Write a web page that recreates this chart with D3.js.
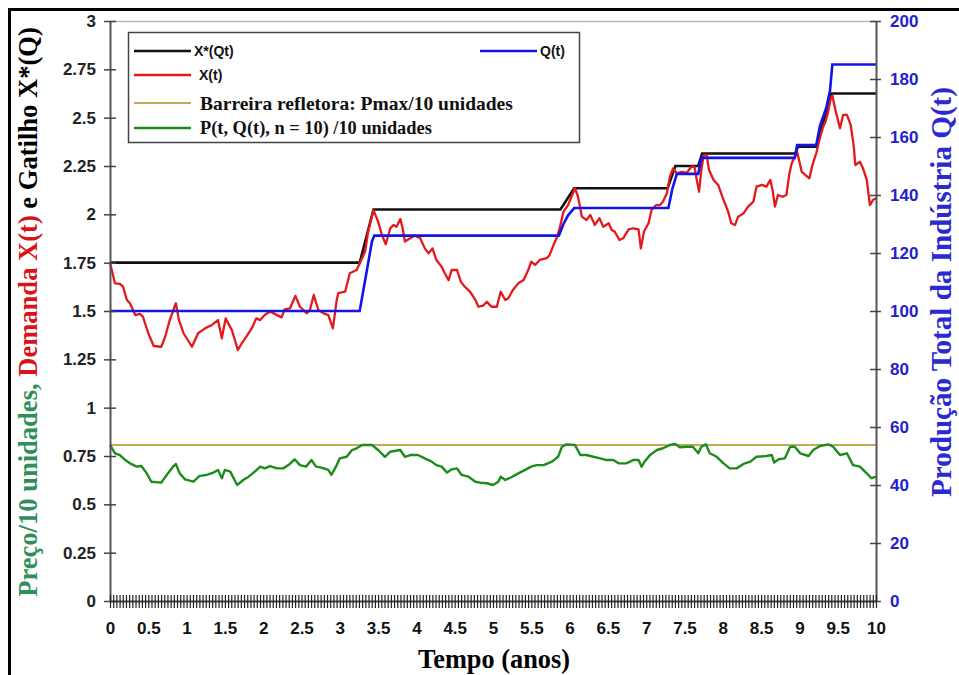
<!DOCTYPE html>
<html><head><meta charset="utf-8">
<script src="https://cdn.jsdelivr.net/npm/d3@7"></script>
<style>body{margin:0;background:#fff;overflow:hidden}</style>
</head><body>
<svg id="c" width="959" height="675"></svg>
<script>
// ---------------- data ----------------
const leftTicks = [0,0.25,0.5,0.75,1,1.25,1.5,1.75,2,2.25,2.5,2.75,3];
const leftTickLabels = ["0","0.25","0.5","0.75","1","1.25","1.5","1.75","2","2.25","2.5","2.75","3"];
const rightTicks = [0,20,40,60,80,100,120,140,160,180,200];
const xLabelTicks = [0,0.5,1,1.5,2,2.5,3,3.5,4,4.5,5,5.5,6,6.5,7,7.5,8,8.5,9,9.5,10];
const xLabelText = ["0","0.5","1","1.5","2","2.5","3","3.5","4","4.5","5","5.5","6","6.5","7","7.5","8","8.5","9","9.5","10"];
const barrierLevel = 0.807;

// X*(Qt) trigger, [t, value]
const triggerX = [[0,1.75],[3.26,1.75],[3.44,2.025],[5.88,2.025],[6.06,2.135],[7.28,2.135],[7.38,2.25],[7.68,2.25],[7.73,2.315],[8.95,2.315],[8.98,2.35],[9.22,2.35],[9.42,2.625],[10,2.625]];

// X(t) demand, [t, value]
const demandX = [[0,1.75],[0.065,1.643],[0.13,1.64],[0.17,1.626],[0.22,1.557],[0.26,1.54],[0.33,1.479],[0.39,1.485],[0.43,1.47],[0.5,1.385],[0.57,1.319],[0.67,1.315],[0.72,1.367],[0.78,1.453],[0.86,1.54],[0.9,1.453],[0.96,1.385],[1.07,1.315],[1.15,1.385],[1.24,1.41],[1.33,1.428],[1.41,1.453],[1.46,1.359],[1.51,1.462],[1.59,1.402],[1.67,1.298],[1.72,1.333],[1.78,1.367],[1.85,1.41],[1.91,1.462],[1.96,1.453],[2.02,1.479],[2.09,1.497],[2.15,1.485],[2.24,1.467],[2.28,1.509],[2.35,1.514],[2.42,1.578],[2.48,1.522],[2.57,1.488],[2.61,1.505],[2.66,1.583],[2.72,1.505],[2.79,1.488],[2.85,1.479],[2.91,1.41],[2.96,1.557],[2.98,1.592],[3.07,1.6],
[3.13,1.695],[3.22,1.712],[3.29,1.773],[3.33,1.807],[3.37,1.91],[3.44,2.022],[3.5,1.962],[3.55,1.893],[3.6,1.845],[3.66,1.928],[3.7,1.945],[3.74,1.936],[3.79,1.976],[3.82,1.928],[3.85,1.859],[3.92,1.876],[3.98,1.89],[4.05,1.876],[4.11,1.824],[4.16,1.798],[4.21,1.824],[4.26,1.764],[4.33,1.729],[4.37,1.695],[4.42,1.66],[4.46,1.712],[4.53,1.712],[4.58,1.652],[4.63,1.626],[4.7,1.6],[4.77,1.557],[4.81,1.522],[4.87,1.528],[4.92,1.548],[4.98,1.522],[5.05,1.522],[5.1,1.6],[5.16,1.557],[5.2,1.566],[5.26,1.609],[5.33,1.643],[5.4,1.66],[5.46,1.712],[5.5,1.755],[5.55,1.738],[5.61,1.764],[5.7,1.773],[5.74,1.79],[5.79,1.841],[5.83,1.876],[5.87,1.928],[5.92,2.014],[5.98,2.048],
[6.07,2.135],[6.11,2.091],[6.16,1.988],[6.22,1.971],[6.27,1.997],[6.33,1.945],[6.39,1.98],[6.44,1.936],[6.51,1.954],[6.55,1.919],[6.59,1.91],[6.65,1.867],[6.7,1.876],[6.77,1.922],[6.83,1.928],[6.9,1.922],[6.93,1.824],[6.97,1.91],[7.03,1.954],[7.07,2.022],[7.13,2.048],[7.18,2.048],[7.22,2.066],[7.27,2.109],[7.31,2.195],[7.35,2.238],[7.4,2.212],[7.46,2.22],[7.53,2.215],[7.59,2.246],[7.63,2.246],[7.66,2.178],[7.69,2.117],[7.72,2.229],[7.75,2.307],[7.79,2.307],[7.82,2.229],[7.88,2.178],[7.94,2.152],[8.01,2.074],[8.07,2.014],[8.11,1.954],[8.16,1.945],[8.2,1.988],[8.27,2.005],[8.33,2.04],[8.4,2.066],[8.44,2.143],[8.51,2.152],
[8.57,2.143],[8.62,2.178],[8.65,2.126],[8.68,2.04],[8.72,2.1],[8.78,2.091],[8.83,2.1],[8.87,2.212],[8.9,2.264],[8.94,2.298],[8.97,2.324],[9.0,2.272],[9.03,2.22],[9.08,2.203],[9.13,2.186],[9.17,2.255],[9.22,2.316],[9.26,2.384],[9.31,2.453],[9.34,2.479],[9.37,2.522],[9.41,2.6],[9.43,2.615],[9.47,2.54],[9.53,2.445],[9.57,2.514],[9.62,2.514],[9.67,2.462],[9.71,2.35],[9.73,2.255],[9.79,2.272],[9.83,2.238],[9.88,2.178],[9.92,2.048],[9.96,2.074],[10,2.083]];

// P(t, Q(t), n=10)/10, [t, value]
const priceP = [[0,0.807],[0.065,0.764],[0.13,0.755],[0.2,0.729],[0.26,0.712],[0.35,0.695],[0.41,0.698],[0.48,0.66],[0.54,0.617],[0.67,0.612],[0.74,0.652],[0.83,0.698],[0.86,0.709],[0.91,0.66],[0.98,0.629],[1.09,0.617],[1.17,0.647],[1.26,0.652],[1.35,0.664],[1.41,0.678],[1.46,0.635],[1.5,0.678],[1.57,0.669],[1.66,0.6],[1.74,0.626],[1.81,0.643],[1.89,0.669],[1.96,0.695],[2.02,0.686],[2.09,0.698],[2.18,0.686],[2.26,0.686],[2.33,0.703],[2.41,0.733],[2.48,0.703],[2.56,0.695],[2.63,0.729],[2.69,0.695],[2.76,0.69],[2.85,0.678],[2.89,0.652],[2.96,0.703],[3.0,0.738],[3.09,0.746],[3.16,0.781],[3.22,0.79],[3.29,0.807],[3.42,0.807],[3.5,0.781],[3.59,0.746],[3.66,0.772],[3.79,0.781],[3.85,0.746],[3.92,0.755],[4.02,0.755],[4.11,0.738],[4.2,0.721],[4.26,0.703],[4.33,0.695],[4.4,0.664],[4.46,0.681],[4.53,0.686],[4.59,0.652],[4.68,0.643],[4.77,0.617],[4.83,0.612],[4.92,0.609],[5.0,0.6],[5.07,0.617],[5.1,0.643],[5.16,0.626],[5.24,0.64],[5.33,0.66],[5.42,0.678],[5.5,0.695],[5.57,0.703],[5.66,0.703],[5.77,0.721],[5.85,0.746],[5.9,0.798],[5.96,0.81],[6.07,0.807],[6.14,0.755],[6.22,0.755],[6.31,0.746],[6.4,0.738],[6.48,0.729],[6.57,0.729],[6.64,0.712],[6.74,0.712],[6.83,0.729],[6.9,0.729],[6.94,0.695],[6.98,0.721],[7.05,0.755],[7.14,0.781],[7.22,0.79],[7.31,0.807],[7.38,0.812],[7.44,0.795],[7.53,0.798],[7.61,0.798],[7.68,0.764],[7.72,0.798],[7.78,0.81],[7.83,0.764],[7.92,0.746],[8.01,0.712],[8.09,0.686],[8.18,0.686],[8.27,0.709],[8.36,0.721],[8.44,0.746],[8.57,0.75],[8.64,0.755],[8.67,0.716],[8.73,0.733],[8.81,0.738],[8.88,0.798],[8.94,0.798],[9.01,0.764],[9.12,0.75],[9.18,0.781],[9.27,0.802],[9.38,0.81],[9.44,0.798],[9.53,0.755],[9.62,0.764],[9.7,0.703],[9.79,0.695],[9.88,0.66],[9.94,0.635],[10,0.643]];

// Q(t) industry output, [t, value] (right axis)
const outputQ = [[0,100],[3.26,100],[3.3,106],[3.36,115],[3.42,124],[3.45,126],[5.86,126],[5.92,130],[5.98,133],[6.06,135.5],[7.29,135.5],[7.34,142],[7.4,147.3],[7.68,147.3],[7.72,152.8],[8.94,152.8],[8.97,157.2],[9.22,157.2],[9.27,164],[9.35,170],[9.4,176],[9.43,185],[10,185]];

// legend
const legendItems = [
  {label:"X*(Qt)", color:"#111", w:2.6, font:"sans", col:0, row:0},
  {label:"X(t)", color:"#e3191c", w:2.4, font:"sans", col:0, row:1},
  {label:"Barreira refletora: Pmax/10 unidades", color:"#a89020", w:1.3, font:"serif", col:0, row:2},
  {label:"P(t, Q(t), n = 10) /10 unidades", color:"#1d8c1d", w:2.4, font:"serif", col:0, row:3},
  {label:"Q(t)", color:"#1414e6", w:2.6, font:"sans", col:1, row:0}
];

// ---------------- drawing ----------------
const SANS = "'Liberation Sans', Arial, sans-serif";
const SERIF = "'Liberation Serif', 'Times New Roman', serif";
const svg = d3.select("#c");
const L = 110, R = 876, T = 21, B = 601;

const x = d3.scaleLinear().domain([0,10]).range([L,R]);
const yL = d3.scaleLinear().domain([0,3]).range([B,T]);
const yR = d3.scaleLinear().domain([0,200]).range([B,T]);

svg.append("rect").attr("width",959).attr("height",675).attr("fill","#fff");
// outer frame (cut off on right/bottom)
svg.append("rect").attr("x",9.5).attr("y",9.5).attr("width",1100).attr("height",1100)
  .attr("fill","none").attr("stroke","#000").attr("stroke-width",3);

// top border of plot
svg.append("line").attr("x1",L).attr("x2",R).attr("y1",T+0.5).attr("y2",T+0.5)
  .attr("stroke","#b8b8b8").attr("stroke-width",1.5);

// barrier
svg.append("line").attr("x1",x(0)).attr("x2",x(10)).attr("y1",yL(barrierLevel)).attr("y2",yL(barrierLevel))
  .attr("stroke","#a89020").attr("stroke-width",1.4);

const lineL = d3.line().x(d=>x(d[0])).y(d=>yL(d[1]));
const lineR = d3.line().x(d=>x(d[0])).y(d=>yR(d[1]));

svg.append("path").datum(priceP).attr("d",lineL).attr("fill","none")
  .attr("stroke","#1d8c1d").attr("stroke-width",2.4).attr("stroke-linejoin","round");
svg.append("path").datum(triggerX).attr("d",lineL).attr("fill","none")
  .attr("stroke","#111").attr("stroke-width",2.6);
svg.append("path").datum(demandX).attr("d",lineL).attr("fill","none")
  .attr("stroke","#e3191c").attr("stroke-width",2.3).attr("stroke-linejoin","round");
svg.append("path").datum(outputQ).attr("d",lineR).attr("fill","none")
  .attr("stroke","#1414e6").attr("stroke-width",2.6);

// left axis
const gL = svg.append("g").attr("transform",`translate(${L},0)`)
  .call(d3.axisLeft(yL).tickValues(leftTicks).tickFormat((d,i)=>leftTickLabels[i]).tickSize(6).tickSizeOuter(0));
gL.select(".domain").attr("stroke","#555").attr("stroke-width",2);
gL.selectAll(".tick line").attr("x1",-6).attr("x2",6).attr("stroke","#444").attr("stroke-width",1.5);
gL.selectAll(".tick text").attr("x",-14).attr("font-family",SANS).attr("font-weight","bold")
  .attr("font-size",17).attr("fill","#222");

// right axis
const gR = svg.append("g").attr("transform",`translate(${R},0)`)
  .call(d3.axisRight(yR).tickValues(rightTicks).tickSize(5).tickSizeOuter(0));
gR.select(".domain").attr("stroke","#555").attr("stroke-width",2);
gR.selectAll(".tick line").attr("x1",-6).attr("x2",5).attr("stroke","#444").attr("stroke-width",1.5);
gR.selectAll(".tick text").attr("x",14).attr("font-family",SANS).attr("font-weight","bold")
  .attr("font-size",17).attr("fill","#2222cc");

// bottom axis: dense minor ticks
const minorTicks = d3.range(0, 240+1).map(i=>i/24);
const gB = svg.append("g").attr("transform",`translate(0,${B})`)
  .call(d3.axisBottom(x).tickValues(minorTicks).tickFormat("").tickSize(7).tickSizeOuter(0));
gB.select(".domain").attr("stroke","#444").attr("stroke-width",2);
gB.selectAll(".tick line").attr("y1",-6).attr("y2",7).attr("stroke","#222").attr("stroke-width",1.2);
// labels
const gB2 = svg.append("g").attr("transform",`translate(0,${B})`)
  .call(d3.axisBottom(x).tickValues(xLabelTicks).tickFormat((d,i)=>xLabelText[i]).tickSize(0));
gB2.select(".domain").remove();
gB2.selectAll(".tick text").attr("y",21).attr("font-family",SANS).attr("font-weight","bold")
  .attr("font-size",17).attr("fill","#111");

// fit helper
function fitWidth(sel, target){
  const len = sel.node().getComputedTextLength();
  const fs = parseFloat(sel.attr("font-size"));
  sel.attr("font-size", fs*target/len);
}

// axis titles
const tB = svg.append("text").attr("x",494).attr("y",668).attr("text-anchor","middle")
  .attr("font-family",SERIF).attr("font-weight","bold").attr("font-size",24).attr("fill","#000")
  .text("Tempo (anos)");
fitWidth(tB,152);

const tL = svg.append("text").attr("transform","translate(37,312) rotate(-90)").attr("text-anchor","middle")
  .attr("font-family",SERIF).attr("font-weight","bold").attr("font-size",22);
tL.append("tspan").attr("fill","#2e8f5a").text("Preço/10 unidades, ");
tL.append("tspan").attr("fill","#d8131a").text("Demanda X(t) ");
tL.append("tspan").attr("fill","#000").text("e Gatilho X*(Q)");
fitWidth(tL,570);

const tR = svg.append("text").attr("transform","translate(951,292) rotate(-90)").attr("text-anchor","middle")
  .attr("font-family",SERIF).attr("font-weight","bold").attr("font-size",22).attr("fill","#2a2ad0")
  .text("Produção Total da Indústria Q(t)");
fitWidth(tR,410);

// legend
const lg = svg.append("g");
lg.append("rect").attr("x",128.5).attr("y",32.5).attr("width",451).attr("height",110)
  .attr("fill","#fff").attr("stroke","#444").attr("stroke-width",1.5);
const rowY = [51,75,103,128];
const colX = [134,480];
const textTargets = {"Barreira refletora: Pmax/10 unidades":313, "P(t, Q(t), n = 10) /10 unidades":232};
legendItems.forEach(it=>{
  const y0 = rowY[it.row], x0 = colX[it.col];
  lg.append("line").attr("x1",x0).attr("x2",x0+57).attr("y1",y0).attr("y2",y0)
    .attr("stroke",it.color).attr("stroke-width",it.w);
  const t = lg.append("text").attr("x",x0+(it.font==="serif"?66:(it.label==="X(t)"?65:60))).attr("y",y0)
    .attr("dominant-baseline","central")
    .attr("font-family",it.font==="serif"?SERIF:SANS).attr("font-weight","bold")
    .attr("font-size",it.font==="serif"?17:14).attr("fill","#111").text(it.label);
  if (textTargets[it.label]) fitWidth(t,textTargets[it.label]);
});
</script>
</body></html>
